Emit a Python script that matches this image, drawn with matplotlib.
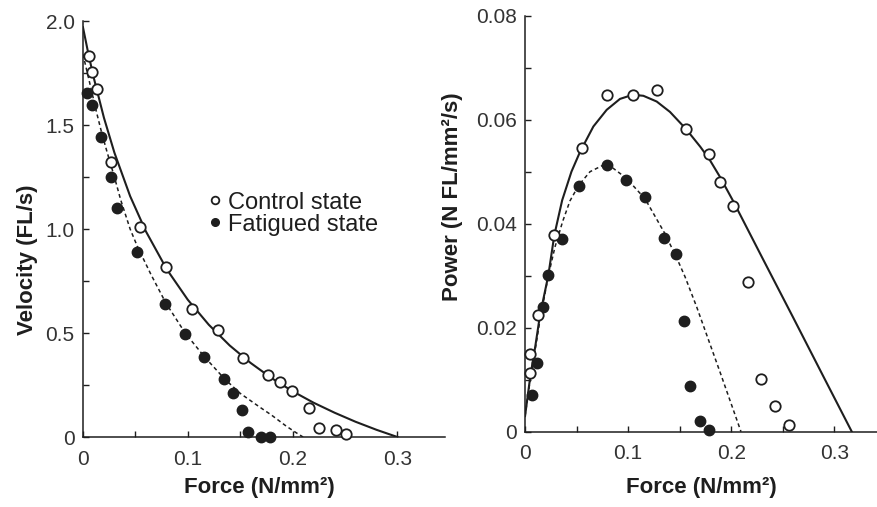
import matplotlib
matplotlib.use("Agg")
import matplotlib.pyplot as plt
from matplotlib.lines import Line2D
from matplotlib.ticker import MultipleLocator, FixedLocator, FixedFormatter

# Force-velocity data (left panel)
ctrl_f = [0.0055, 0.0087, 0.0133, 0.0271, 0.0545, 0.0794, 0.1043, 0.1285, 0.1530,
          0.1762, 0.1881, 0.1991, 0.2152, 0.2256, 0.2410, 0.2507]
ctrl_v = [1.83, 1.756, 1.672, 1.324, 1.01, 0.816, 0.617, 0.513, 0.38,
          0.297, 0.266, 0.221, 0.138, 0.045, 0.034, 0.013]
fat_f = [0.0036, 0.0084, 0.0171, 0.0271, 0.0326, 0.0520, 0.0787, 0.0975, 0.1159,
         0.1346, 0.1433, 0.1513, 0.1575, 0.1701, 0.1788]
fat_v = [1.652, 1.596, 1.444, 1.251, 1.102, 0.891, 0.639, 0.497, 0.383,
         0.277, 0.213, 0.130, 0.025, 0.0, 0.0]

# fitted curves
ctrl_fit_f = [0, 0.005, 0.01, 0.02, 0.03, 0.045, 0.06, 0.08, 0.1, 0.12, 0.14,
              0.16, 0.18, 0.2, 0.22, 0.24, 0.26, 0.28, 0.3]
ctrl_fit_v = [1.97, 1.846, 1.733, 1.535, 1.367, 1.158, 0.989, 0.806, 0.660, 0.540,
              0.440, 0.356, 0.283, 0.220, 0.165, 0.117, 0.0735, 0.0348, 0]
fat_fit_f = [0, 0.007, 0.013, 0.018, 0.023, 0.03, 0.036, 0.045, 0.052, 0.065, 0.079,
             0.0975, 0.116, 0.135, 0.15, 0.168, 0.18, 0.194, 0.203, 0.21]
fat_fit_v = [1.84, 1.69, 1.56, 1.46, 1.37, 1.25, 1.14, 1.00, 0.915, 0.78, 0.645,
             0.50, 0.385, 0.28, 0.21, 0.146, 0.105, 0.052, 0.022, 0]

# Force-power data (right panel)
pc_f = [0.0049, 0.0049, 0.0129, 0.0281, 0.0556, 0.0792, 0.1045, 0.1277, 0.1562,
        0.1788, 0.1891, 0.2015, 0.2160, 0.2286, 0.2428, 0.2558]
pc_p = [0.0112, 0.0150, 0.0224, 0.0378, 0.0546, 0.0648, 0.0648, 0.0657, 0.0583,
        0.0534, 0.0481, 0.0435, 0.0287, 0.0101, 0.0049, 0.0013]
pf_f = [0.0065, 0.0113, 0.0178, 0.0226, 0.0360, 0.0521, 0.0792, 0.0980, 0.1164,
        0.1351, 0.1465, 0.1542, 0.1600, 0.1700, 0.1785]
pf_p = [0.0070, 0.0132, 0.0240, 0.0301, 0.0371, 0.0472, 0.0513, 0.0485, 0.0452,
        0.0373, 0.0341, 0.0213, 0.0087, 0.0020, 0.0004]

pc_fit_f = [0, 0.005, 0.01, 0.0145, 0.0226, 0.0284, 0.036, 0.045, 0.0533, 0.0663,
            0.0792, 0.0921, 0.1045, 0.1148, 0.1277, 0.1406, 0.1562, 0.17, 0.1788,
            0.1891, 0.2015, 0.23, 0.26, 0.29, 0.317]
pc_fit_p = [0.003, 0.0105, 0.0165, 0.0224, 0.0301, 0.0378, 0.0445, 0.0500, 0.0538,
            0.0587, 0.0619, 0.0640, 0.0648, 0.0646, 0.0635, 0.0615, 0.0582, 0.0548,
            0.0524, 0.0490, 0.0445, 0.0335, 0.0220, 0.0104, 0]
pf_fit_f = [0, 0.005, 0.01, 0.0145, 0.0226, 0.029, 0.0366, 0.0436, 0.0521, 0.063,
            0.0792, 0.098, 0.1164, 0.1351, 0.1465, 0.1552, 0.1665, 0.1891, 0.2095]
pf_fit_p = [0.003, 0.0100, 0.0160, 0.0215, 0.0300, 0.0355, 0.0405, 0.0444, 0.0474,
            0.0500, 0.0516, 0.0488, 0.0448, 0.0383, 0.0337, 0.0298, 0.0240, 0.0115, 0]

plt.rcParams["font.family"] = "Liberation Sans"
ink = "#1e1e1e"

fig = plt.figure(figsize=(8.78, 5.07), dpi=100)
ax1 = fig.add_axes([0.0945, 0.138, 0.4119, 0.8205])
ax2 = fig.add_axes([0.598, 0.1485, 0.4027, 0.8205])

open_kw = dict(ls="none", marker="o", ms=7.5, mfc="white", mec=ink, mew=1.3,
               zorder=4, clip_on=False)
fill_kw = dict(ls="none", marker="o", ms=7.5, mfc=ink, mec=ink, mew=1.0,
               zorder=4, clip_on=False)

# Left: velocity
ax1.plot(ctrl_fit_f, ctrl_fit_v, color=ink, lw=1.5, zorder=2)
ax1.plot(fat_fit_f, fat_fit_v, color=ink, lw=1.1, ls=(0, (2.5, 2.0)), zorder=2)
ax1.plot(fat_f, fat_v, **fill_kw)
ax1.plot(ctrl_f, ctrl_v, **open_kw)

ax1.set_xlim(0, 0.345)
ax1.set_ylim(0, 2.0)
ax1.xaxis.set_major_locator(FixedLocator([0, 0.1, 0.2, 0.3]))
ax1.xaxis.set_major_formatter(FixedFormatter(["0", "0.1", "0.2", "0.3"]))
ax1.xaxis.set_minor_locator(MultipleLocator(0.05))
ax1.yaxis.set_major_locator(FixedLocator([0, 0.5, 1.0, 1.5, 2.0]))
ax1.yaxis.set_major_formatter(FixedFormatter(["0", "0.5", "1.0", "1.5", "2.0"]))
ax1.yaxis.set_minor_locator(MultipleLocator(0.25))
ax1.set_xlabel("Force (N/mm²)", fontsize=16, fontweight="bold", color=ink)
ax1.set_ylabel("Velocity (FL/s)", fontsize=16, fontweight="bold", color=ink)
ax1.xaxis.set_label_coords(0.487, -0.095)
ax1.yaxis.set_label_coords(-0.125, 0.425)

legend_handles = [
    Line2D([], [], ls="none", marker="o", ms=5.5, mfc="white", mec=ink, mew=1.3),
    Line2D([], [], ls="none", marker="o", ms=5.5, mfc=ink, mec=ink),
]
ax1.legend(legend_handles, ["Control state", "Fatigued state"], loc="upper left",
           bbox_to_anchor=(0.346, 0.59), frameon=False, fontsize=17,
           handlelength=0.6, handletextpad=0.25, borderpad=0, borderaxespad=0,
           labelspacing=0.0, labelcolor=ink)

# Right: power
ax2.plot(pc_fit_f, pc_fit_p, color=ink, lw=1.5, zorder=2)
ax2.plot(pf_fit_f, pf_fit_p, color=ink, lw=1.1, ls=(0, (2.5, 2.0)), zorder=2)
ax2.plot(pf_f, pf_p, **fill_kw)
ax2.plot(pc_f, pc_p, **open_kw)

ax2.set_xlim(0, 0.343)
ax2.set_ylim(0, 0.08)
ax2.xaxis.set_major_locator(FixedLocator([0, 0.1, 0.2, 0.3]))
ax2.xaxis.set_major_formatter(FixedFormatter(["0", "0.1", "0.2", "0.3"]))
ax2.xaxis.set_minor_locator(MultipleLocator(0.05))
ax2.yaxis.set_major_locator(FixedLocator([0, 0.02, 0.04, 0.06, 0.08]))
ax2.yaxis.set_major_formatter(FixedFormatter(["0", "0.02", "0.04", "0.06", "0.08"]))
ax2.yaxis.set_minor_locator(MultipleLocator(0.01))
ax2.set_xlabel("Force (N/mm²)", fontsize=16, fontweight="bold", color=ink)
ax2.set_ylabel("Power (N FL/mm²/s)", fontsize=16, fontweight="bold", color=ink)
ax2.xaxis.set_label_coords(0.498, -0.11)
ax2.yaxis.set_label_coords(-0.175, 0.564)

for ax in (ax1, ax2):
    ax.spines["top"].set_visible(False)
    ax.spines["right"].set_visible(False)
    for s in ("left", "bottom"):
        ax.spines[s].set_linewidth(1.1)
        ax.spines[s].set_color(ink)
    ax.tick_params(which="both", direction="in", length=4, width=1.0, color=ink,
                   labelsize=15, labelcolor="#333333")
    ax.tick_params(axis="x", which="major", pad=9)
    ax.tick_params(axis="y", which="major", pad=6)

fig.savefig("out.png", dpi=100, facecolor="white")
